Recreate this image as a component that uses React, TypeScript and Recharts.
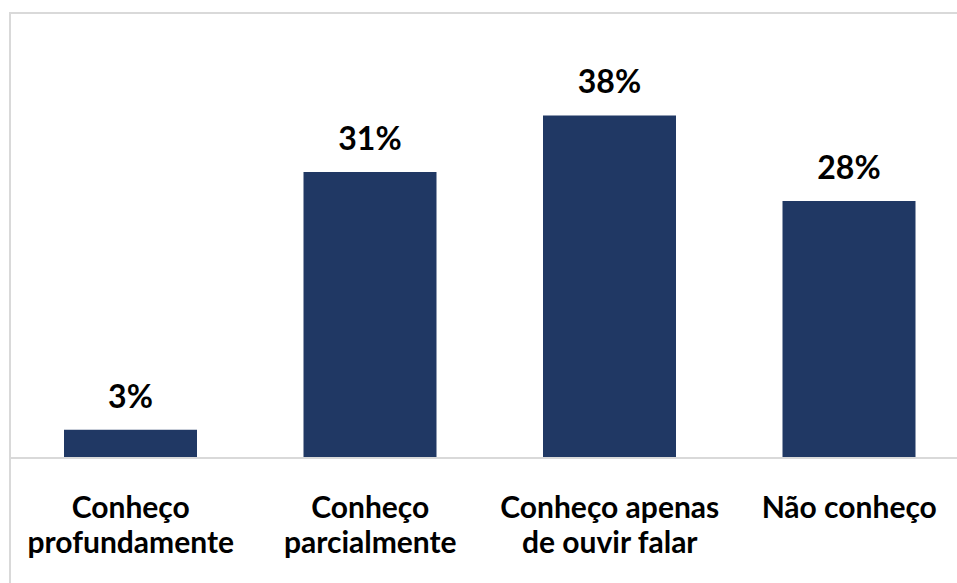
import { Bar, BarChart, LabelList, XAxis, YAxis } from 'recharts'

const categories = [
  'Conheço profundamente',
  'Conheço parcialmente',
  'Conheço apenas de ouvir falar',
  'Não conheço',
]
const tickLines = [
  ['Conheço', 'profundamente'],
  ['Conheço', 'parcialmente'],
  ['Conheço apenas', 'de ouvir falar'],
  ['Não conheço'],
]
const shares = [3.1, 31.4, 37.6, 28.2]

const data = categories.map((name, i) => ({ name, value: shares[i], lines: tickLines[i] }))

const FONT = 'Lato, "Open Sans", sans-serif'

function CategoryTick({ x, y, index }: any) {
  const lines = tickLines[index] ?? []
  return (
    <g transform={`translate(${x},${y})`}>
      {lines.map((line, i) => (
        <text
          key={line}
          x={0}
          y={52 + i * 35}
          textAnchor="middle"
          fontFamily={FONT}
          fontWeight={700}
          fontSize={30}
          fill="#000"
        >
          {line}
        </text>
      ))}
    </g>
  )
}

export default function App() {
  return (
    <>
      <style>{'html, body { margin: 0; overflow: hidden; }'}</style>
      <div style={{ position: 'relative', width: 957, height: 583, overflow: 'hidden' }}>
        <div
          style={{
            position: 'absolute',
            left: 9,
            top: 12,
            width: 1000,
            height: 700,
            borderLeft: '2px solid #d9d9d9',
            borderTop: '2px solid #d9d9d9',
          }}
        />
        <div style={{ position: 'absolute', left: 8, top: 8 }}>
          <BarChart
            width={961}
            height={575}
            data={data}
            margin={{ top: 40, right: 0, left: 3, bottom: 0 }}
          >
            <XAxis
              dataKey="name"
              axisLine={{ stroke: '#d9d9d9', strokeWidth: 2 }}
              tickLine={false}
              interval={0}
              height={125}
              tick={<CategoryTick />}
            />
            <YAxis hide domain={[0, 45]} />
            <Bar dataKey="value" fill="#203864" barSize={133} isAnimationActive={false}>
              <LabelList
                dataKey="value"
                position="top"
                offset={22}
                formatter={(v: any) => `${Math.round(Number(v))}%`}
                style={{ fontFamily: FONT, fontWeight: 700, fontSize: 32, fill: '#000' }}
              />
            </Bar>
          </BarChart>
        </div>
      </div>
    </>
  )
}
